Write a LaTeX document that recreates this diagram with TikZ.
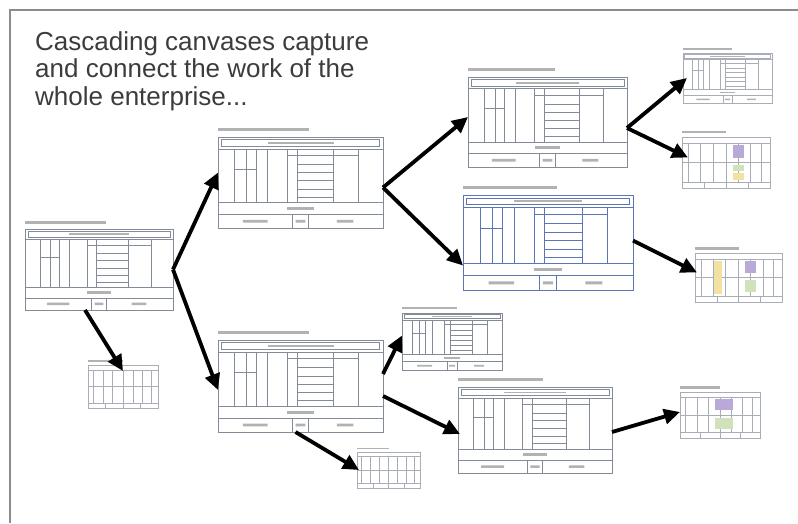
\documentclass[tikz,border=0pt]{standalone}
\usepackage{fontspec}
\setmainfont{Liberation Sans}
\usetikzlibrary{arrows.meta}

\definecolor{slideedge}{HTML}{8C8C8C}
\definecolor{headline}{HTML}{3C3C3C}
\definecolor{gridgray}{HTML}{838A98}
\definecolor{bmcblue}{HTML}{5A76B6}
\definecolor{notepurple}{HTML}{B9A9D9}
\definecolor{noteyellow}{HTML}{F2E2A2}
\definecolor{notegreen}{HTML}{CFE2B9}

% canvas layout in unit coordinates (x right, y down)
\newcommand{\canvaslines}{%
  \fill[caption] (0,-0.1) rectangle (0.55,-0.065);
  \draw (0.02,0.03) rectangle (0.98,0.1);
  \fill[caption] (0.3,0.055) rectangle (0.7,0.075);
  \draw (0,0.13) -- (1,0.13) (0,0.72) -- (1,0.72) (0,0.85) -- (1,0.85);
  \draw (0.45,0.85) -- (0.45,1) (0.55,0.85) -- (0.55,1);
  \foreach \c in {0.1,0.17,0.23,0.3,0.42,0.48,0.7,0.85}
    \draw (\c,0.13) -- (\c,0.72);
  \draw (0.1,0.35) -- (0.23,0.35) (0.42,0.2) -- (0.85,0.2);
  \foreach \r in {0.3,0.39,0.48,0.57,0.66}
    \draw (0.48,\r) -- (0.7,\r);
  \fill[caption] (0.42,0.77) rectangle (0.58,0.8);
  \fill[caption] (0.15,0.91) rectangle (0.3,0.94) (0.47,0.91) rectangle (0.53,0.94)
    (0.72,0.91) rectangle (0.82,0.94);
}

% board of sticky-note cells, same unit coordinates
\newcommand{\boardlines}{%
  \fill[caption] (0,-0.12) rectangle (0.5,-0.07);
  \draw (0,0.12) -- (1,0.12) (0,0.5) -- (1,0.5) (0,0.88) -- (1,0.88);
  \foreach \c in {0.07,0.21,0.35,0.5,0.64,0.78,0.9}
    \draw (\c,0.12) -- (\c,0.88);
  \foreach \c in {0.25,0.5,0.75}
    \draw (\c,0.88) -- (\c,1);
}

\begin{document}
\begin{tikzpicture}[
    x=1pt, y=-1pt,
    canvas/.style={draw=gridgray, fill=white, line width=0.9pt, inner sep=0pt, outer sep=0pt},
    caption/.style={black!30},
    flow/.style={-{Triangle[length=16pt,width=15pt]}, line width=3.8pt, black},
    lede/.style={text=headline, font=\fontsize{26}{27.5}\selectfont, align=left, inner sep=0pt},
]
\useasboundingbox (0,0) rectangle (798,523);

% slide edge
\draw[slideedge, line width=2.5pt] (10,523) -- (10,10) -- (798,10);

\node[lede, anchor=north west] (title) at (35,31)
  {Cascading canvases capture\\and connect the work of the\\whole enterprise...};

% portfolio and business model canvases
\foreach \n/\cx/\cy/\w/\h/\col in {
  c0/99/269.5/148/81/gridgray,
  c1/300.5/182.5/165/91/gridgray,
  c2/547.5/122/159/90/gridgray,
  c3/548/242.5/170/95/bmcblue,
  c4/300.5/386/165/92/gridgray,
  c5/452/341.5/100/57/gridgray,
  c6/535/430/154/86/gridgray,
  t1/727.5/78/89/50/gridgray!70
}{
  \node[canvas, draw=\col, minimum width=\w pt, minimum height=\h pt] (\n) at (\cx,\cy) {};
  \begin{scope}[shift={(\n.north west)}, x=\w pt, y=-\h pt, draw=\col, line width=0.6pt]
    \canvaslines
  \end{scope}
}

% sticky-note boards
\foreach \n/\cx/\cy/\w/\h in {
  t2/726/162.5/88/51, t3/738.5/277.5/87/49, t4/720/415/80/46,
  t5/123/386.5/70/43, t6/388.5/470/63/36
}{
  \node[canvas, draw=gridgray!70, minimum width=\w pt, minimum height=\h pt] (\n) at (\cx,\cy) {};
  \begin{scope}[shift={(\n.north west)}, x=\w pt, y=-\h pt, draw=gridgray!70, line width=0.4pt]
    \boardlines
  \end{scope}
}

% notes
\begin{scope}[shift={(t2.north west)}, x=88pt, y=-51pt]
  \fill[notepurple] (0.58,0.16) rectangle (0.7,0.42);
  \fill[notegreen] (0.58,0.54) rectangle (0.7,0.66);
  \fill[noteyellow] (0.58,0.7) rectangle (0.7,0.84);
\end{scope}
\begin{scope}[shift={(t3.north west)}, x=87pt, y=-49pt]
  \fill[noteyellow] (0.22,0.16) rectangle (0.31,0.84);
  \fill[notepurple] (0.58,0.16) rectangle (0.7,0.4);
  \fill[notegreen] (0.58,0.56) rectangle (0.7,0.8);
\end{scope}
\begin{scope}[shift={(t4.north west)}, x=80pt, y=-46pt]
  \fill[notepurple] (0.44,0.16) rectangle (0.66,0.4);
  \fill[notegreen] (0.44,0.56) rectangle (0.66,0.8);
\end{scope}

% cascade
\draw[flow] (c0.east) -- ([yshift=10pt]c1.west);
\draw[flow] (c0.east) -- ([yshift=-4pt]c4.west);
\draw[flow] ([xshift=-14pt]c0.south) -- ([yshift=-6pt]t5.north);
\draw[flow] ([yshift=-5pt]c1.east) -- ([yshift=5pt]c2.west);
\draw[flow] ([yshift=-5pt]c1.east) -- ([yshift=-23pt]c3.west);
\draw[flow] ([yshift=-6pt]c2.east) -- ([xshift=4pt]t1.west);
\draw[flow] ([yshift=-6pt]c2.east) -- ([xshift=6pt,yshift=5pt]t2.west);
\draw[flow] ([yshift=2pt]c3.east) -- ([xshift=2pt,yshift=5pt]t3.west);
\draw[flow] ([yshift=12pt]c4.east) -- ([yshift=6pt]c5.west);
\draw[flow] ([yshift=-10pt]c4.east) -- ([xshift=2pt,yshift=-4pt]c6.west);
\draw[flow] ([xshift=-5pt]c4.south) -- ([xshift=2pt]t6.west);
\draw[flow] ([yshift=-2pt]c6.east) -- ([yshift=3pt]t4.west);
\end{tikzpicture}
\end{document}
